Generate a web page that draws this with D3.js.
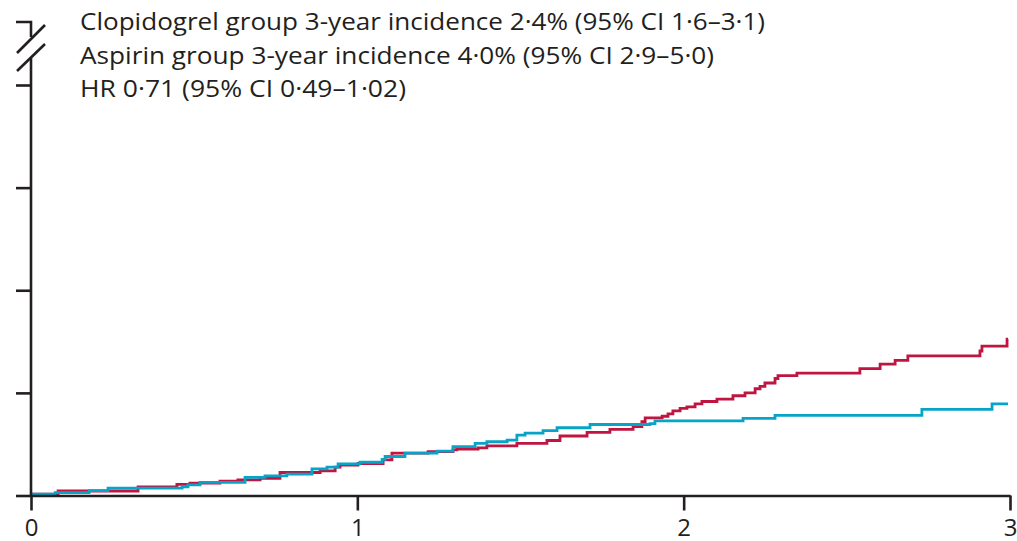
<!DOCTYPE html>
<html>
<head>
<meta charset="utf-8">
<script src="https://cdn.jsdelivr.net/npm/d3@7/dist/d3.min.js"></script>
<style>
  html, body { margin: 0; padding: 0; background: #ffffff; }
  svg { display: block; }
  text { font-family: "Open Sans", "Noto Sans", sans-serif; fill: #231f20; }
</style>
</head>
<body>
<svg id="chart" width="1017" height="541"></svg>
<script>
// Time since randomisation (years) and cumulative incidence (%), step-after form
const clopidogrelTime = [0, 0.074, 0.178, 0.236, 0.463, 0.481, 0.518, 0.656, 0.717, 0.784,
  0.861, 0.907, 0.941, 1.008, 1.076, 1.085, 1.146, 1.244, 1.293, 1.361, 1.397, 1.459,
  1.489, 1.514, 1.569, 1.612, 1.713, 1.897, 1.912, 2.182, 2.280, 2.730, 2.945, 2.994];
const clopidogrelValue = [0.03, 0.07, 0.12, 0.18, 0.21, 0.26, 0.32, 0.44, 0.48, 0.52,
  0.65, 0.69, 0.77, 0.81, 0.88, 0.95, 1.03, 1.08, 1.19, 1.27, 1.31, 1.35,
  1.47, 1.52, 1.58, 1.65, 1.73, 1.75, 1.82, 1.88, 1.95, 2.10, 2.23, 2.23];

const aspirinTime = [0, 0.083, 0.328, 0.447, 0.487, 0.579, 0.634, 0.702, 0.763, 0.886,
  0.932, 0.947, 1.002, 1.079, 1.106, 1.217, 1.293, 1.305, 1.370, 1.397, 1.489, 1.581,
  1.621, 1.704, 1.774, 1.845, 1.872, 1.882, 1.934, 1.952, 1.967, 1.989, 2.010, 2.035,
  2.056, 2.102, 2.151, 2.188, 2.219, 2.234, 2.249, 2.280, 2.289, 2.347, 2.540, 2.602,
  2.648, 2.687, 2.908, 2.914, 2.991, 2.994];
const aspirinValue = [0.03, 0.11, 0.21, 0.27, 0.30, 0.35, 0.38, 0.42, 0.56, 0.60,
  0.69, 0.74, 0.78, 0.87, 1.03, 1.07, 1.11, 1.13, 1.16, 1.21, 1.27, 1.34,
  1.45, 1.54, 1.61, 1.68, 1.80, 1.89, 1.93, 1.99, 2.06, 2.12, 2.16, 2.23,
  2.29, 2.35, 2.43, 2.50, 2.60, 2.66, 2.74, 2.85, 2.92, 2.98, 3.09, 3.20,
  3.29, 3.40, 3.52, 3.64, 3.81, 3.81];

const xTicks = [0, 1, 2, 3];
const yTicks = [0, 2.5, 5, 7.5, 10];

const legendLines = [
  "Clopidogrel group 3-year incidence 2·4% (95% CI 1·6–3·1)",
  "Aspirin group 3-year incidence 4·0% (95% CI 2·9–5·0)",
  "HR 0·71 (95% CI 0·49–1·02)"
];

const axisColor = "#231f20";
const aspirinColor = "#be1541";
const clopidogrelColor = "#07a4c8";

const svg = d3.select("#chart");

const x = d3.scaleLinear().domain([0, 3]).range([31, 1010]);
const y = d3.scaleLinear().domain([0, 10]).range([495.5, 85]);

// Step curves
const line = d3.line()
  .x(d => x(d[0]))
  .y(d => y(d[1]))
  .curve(d3.curveStepAfter);

const aspirinData = d3.zip(aspirinTime, aspirinValue);
const clopidogrelData = d3.zip(clopidogrelTime, clopidogrelValue);

svg.append("path")
  .datum(aspirinData)
  .attr("d", line)
  .attr("fill", "none")
  .attr("stroke", aspirinColor)
  .attr("stroke-width", 2.8);

svg.append("path")
  .datum(clopidogrelData)
  .attr("d", line)
  .attr("fill", "none")
  .attr("stroke", clopidogrelColor)
  .attr("stroke-width", 2.8);

// X axis
const xAxis = d3.axisBottom(x)
  .tickValues(xTicks)
  .tickFormat(d3.format("d"))
  .tickSize(15)
  .tickSizeOuter(0)
  .tickPadding(9);

const gx = svg.append("g")
  .attr("transform", `translate(0,${y(0)})`)
  .call(xAxis);
gx.select(".domain").attr("stroke", axisColor).attr("stroke-width", 2.6);
gx.selectAll(".tick line").attr("stroke", axisColor).attr("stroke-width", 2.6);
gx.selectAll(".tick text")
  .attr("y", 40)
  .attr("dy", null)
  .attr("font-size", 24)
  .attr("font-family", "'Open Sans', 'Noto Sans', sans-serif")
  .attr("fill", axisColor);

// Y axis (no labels), with a break near the top
const yAxis = d3.axisLeft(y)
  .tickValues(yTicks)
  .tickFormat("")
  .tickSize(15)
  .tickSizeOuter(0);

const gy = svg.append("g")
  .attr("transform", `translate(${x(0)},0)`)
  .call(yAxis);
gy.select(".domain").remove();
gy.selectAll(".tick line").attr("stroke", axisColor).attr("stroke-width", 2.6);

const x0 = x(0);
const topTickY = y(10) - 63;
const brk = svg.append("g")
  .attr("stroke", axisColor)
  .attr("stroke-width", 2.6)
  .attr("fill", "none");
// lower axis segment
brk.append("line").attr("x1", x0).attr("x2", x0).attr("y1", y(0) + 1).attr("y2", y(10) - 27);
// upper axis segment with its end tick
brk.append("path")
  .attr("d", `M${x0 - 15},${topTickY} H${x0} V${topTickY + 15}`);
// break marks
brk.append("line").attr("x1", x0 - 14).attr("y1", topTickY + 31).attr("x2", x0 + 14).attr("y2", topTickY + 3);
brk.append("line").attr("x1", x0 - 14).attr("y1", topTickY + 49).attr("x2", x0 + 14).attr("y2", topTickY + 22);

// Summary text
const legendWidths = [685, 634, 326];
svg.append("g")
  .selectAll("text")
  .data(legendLines)
  .join("text")
  .attr("x", 80)
  .attr("y", (d, i) => 30 + i * 33.5)
  .attr("font-size", 24)
  .attr("textLength", (d, i) => legendWidths[i])
  .attr("lengthAdjust", "spacingAndGlyphs")
  .text(d => d);
</script>
</body>
</html>
